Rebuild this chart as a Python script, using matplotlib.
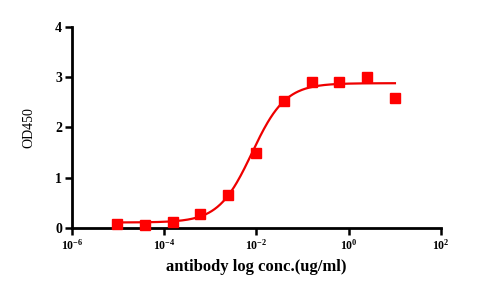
import numpy as np
import matplotlib
matplotlib.use('Agg')
import matplotlib.pyplot as plt

# dados: diluição seriada 1:4 a partir de 10 ug/ml
conc = [10, 2.5, 0.625, 0.15625, 0.0390625, 0.009765625, 0.00244140625,
        0.0006103515625, 0.000152587890625, 3.814697265625e-05, 9.5367431640625e-06]
od450 = [2.59, 3.01, 2.90, 2.91, 2.53, 1.49, 0.65, 0.28, 0.11, 0.07, 0.08]

# parametros do ajuste 4PL
bottom, top, ec50, hill = 0.11, 2.88, 0.008, 1.2

plt.rcParams['font.family'] = 'Liberation Serif'
plt.rcParams['mathtext.fontset'] = 'custom'
plt.rcParams['mathtext.rm'] = 'Liberation Serif:bold'
plt.rcParams['mathtext.bf'] = 'Liberation Serif:bold'
plt.rcParams['mathtext.it'] = 'Liberation Serif:bold'

fig = plt.figure(figsize=(4.89, 2.89), dpi=100)
ax = fig.add_axes([0.147, 0.211, 0.755, 0.696])

xs = np.logspace(np.log10(min(conc)), np.log10(max(conc)), 300)
ys = bottom + (top - bottom) / (1 + (ec50 / xs) ** hill)
ax.plot(xs, ys, color='#ee0000', lw=1.6, zorder=2)
ax.plot(conc, od450, 's', color='#ff0000', ms=7, zorder=3, clip_on=False)

ax.set_xscale('log')
ax.set_xlim(1e-6, 1e2)
ax.set_ylim(0, 4)
ax.set_xticks([1e-6, 1e-4, 1e-2, 1e0, 1e2])
ax.set_xticklabels([r'$10^{-6}$', r'$10^{-4}$', r'$10^{-2}$', r'$10^{0}$', r'$10^{2}$'])
ax.minorticks_off()
ax.set_yticks([0, 1, 2, 3, 4])

for s in ['top', 'right']:
    ax.spines[s].set_visible(False)
for s in ['left', 'bottom']:
    ax.spines[s].set_linewidth(2)
ax.tick_params(width=1.8, length=5, labelsize=8.5, pad=2)
for lab in ax.get_yticklabels():
    lab.set_fontweight('bold')
    lab.set_fontsize(10)

ax.set_xlabel('antibody log conc.(ug/ml)', fontsize=12, fontweight='bold', labelpad=5)
ax.set_ylabel('OD450', fontsize=10, labelpad=14)

plt.savefig('out.png', dpi=100)
